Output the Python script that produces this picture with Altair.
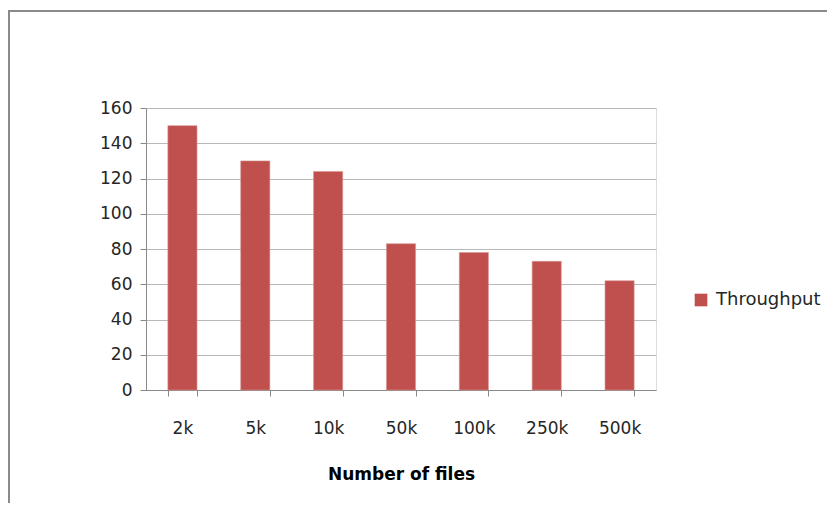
import altair as alt
import pandas as pd

categories = ["2k", "5k", "10k", "50k", "100k", "250k", "500k"]
throughput = [150, 130, 124, 83, 78, 73, 62]
series = ["Throughput"] * len(categories)

df = pd.DataFrame({"files": categories, "value": throughput, "series": series})
frame_df = pd.DataFrame({"k": [0]})

FONT = "DejaVu Sans"
W, H = 510, 282

bars = alt.Chart(df).mark_bar(color="#C0504D", stroke="#D99694", strokeWidth=0.6).encode(
    x=alt.X("files:N", sort=categories,
            scale=alt.Scale(paddingInner=0.6, paddingOuter=0.3),
            axis=alt.Axis(title="Number of files", labelAngle=0, tickBand="extent",
                          domainColor="#898989", tickColor="#898989", tickSize=6,
                          labelPadding=24, titlePadding=30, labelFontSize=17,
                          titleFontSize=17, titleFontWeight="bold", labelColor="#262626",
                          titleColor="#000000", grid=False)),
    y=alt.Y("value:Q", scale=alt.Scale(domain=[0, 160]),
            axis=alt.Axis(title=None, values=[0, 20, 40, 60, 80, 100, 120, 140, 160],
                          domainColor="#898989", tickColor="#898989", tickSize=6,
                          gridColor="#b8b8b8", labelFontSize=17, labelPadding=8,
                          labelColor="#262626")),
    color=alt.Color("series:N", scale=alt.Scale(range=["#C0504D"]),
                    legend=alt.Legend(title=None, orient="none", legendX=546, legendY=183,
                                      symbolType="square", symbolSize=160,
                                      labelFontSize=18, labelColor="#262626",
                                      labelOffset=6, symbolStrokeWidth=0)),
)

frame = alt.Chart(frame_df).mark_rect(fill=None, stroke="#8a8a8a", strokeWidth=2).encode(
    x=alt.value(-137), x2=alt.value(720), y=alt.value(-97), y2=alt.value(430))

chart = alt.layer(bars, frame).properties(
    width=W, height=H,
    autosize=alt.AutoSizeParams(type="none"),
    padding={"left": 138, "top": 100, "right": 171, "bottom": 113},
).configure_view(stroke=None).configure(font=FONT)

chart.save("out.html", embed_options={"renderer": "svg", "actions": False})
